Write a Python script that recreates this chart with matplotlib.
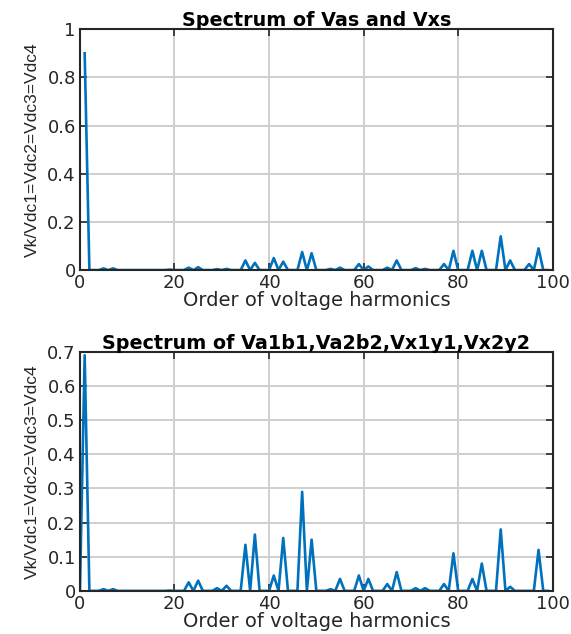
import numpy as np
import matplotlib
matplotlib.use("Agg")
import matplotlib.pyplot as plt

# odd harmonic amplitudes (normalised)
harm_top = [1, 5, 7, 19, 23, 25, 29, 31, 35, 37, 41, 43, 47, 49, 53, 55, 59, 61,
            65, 67, 71, 73, 77, 79, 83, 85, 89, 91, 95, 97]
amp_top = [0.90, 0.007, 0.007, 0.002, 0.010, 0.012, 0.004, 0.005, 0.040, 0.030,
           0.050, 0.035, 0.075, 0.070, 0.005, 0.010, 0.025, 0.015, 0.010, 0.040,
           0.008, 0.005, 0.025, 0.080, 0.080, 0.080, 0.140, 0.040, 0.025, 0.090]

harm_bot = [1, 5, 7, 19, 23, 25, 29, 31, 35, 37, 41, 43, 47, 49, 53, 55, 59, 61,
            65, 67, 71, 73, 77, 79, 83, 85, 89, 91, 97]
amp_bot = [0.69, 0.005, 0.005, 0.001, 0.025, 0.030, 0.008, 0.015, 0.135, 0.165,
           0.045, 0.155, 0.290, 0.150, 0.005, 0.035, 0.045, 0.035, 0.020, 0.055,
           0.008, 0.008, 0.020, 0.110, 0.035, 0.080, 0.180, 0.012, 0.120]

titles = ["Spectrum of Vas and Vxs", "Spectrum of Va1b1,Va2b2,Vx1y1,Vx2y2"]
ylabel = "Vk/Vdc1=Vdc2=Vdc3=Vdc4"
xlabel = "Order of voltage harmonics"


def spectrum(orders, amps, k_start):
    k = np.arange(k_start, 100)
    v = np.zeros(len(k))
    for o, a in zip(orders, amps):
        v[k == o] = a
    return k, v


fig = plt.figure(figsize=(5.71, 6.34), dpi=100)
ax1 = fig.add_axes([0.140, 0.574, 0.828, 0.380])
ax2 = fig.add_axes([0.140, 0.068, 0.828, 0.377])

setups = [
    (ax1, harm_top, amp_top, 1, 1.0, np.arange(0, 1.01, 0.2), ["0", "0.2", "0.4", "0.6", "0.8", "1"]),
    (ax2, harm_bot, amp_bot, 0, 0.7, np.arange(0, 0.71, 0.1), ["0", "0.1", "0.2", "0.3", "0.4", "0.5", "0.6", "0.7"]),
]

for (ax, orders, amps, k0, ymax, yt, ytl), title in zip(setups, titles):
    k, v = spectrum(orders, amps, k0)
    ax.plot(k, v, color="#0072BD", lw=1.9)
    ax.set_xlim(0, 100)
    ax.set_ylim(0, ymax)
    ax.set_xticks(np.arange(0, 101, 20))
    ax.set_yticks(yt)
    ax.set_yticklabels(ytl)
    ax.grid(True, color="#cfcfcf", lw=1.4)
    ax.set_axisbelow(True)
    for s in ax.spines.values():
        s.set_linewidth(1.5)
        s.set_color("#262626")
    ax.tick_params(direction="in", length=5, width=1.2, top=True, right=True,
                   labelsize=13, colors="#262626", pad=3)
    for lab in ax.get_xticklabels() + ax.get_yticklabels():
        lab.set_family("DejaVu Sans")
    ax.set_title(title, fontsize=13.8, fontweight="bold", family="DejaVu Sans", pad=2)
    ax.set_xlabel(xlabel, fontsize=14, family="DejaVu Sans", color="#262626", labelpad=-1)
    ax.set_ylabel(ylabel, fontsize=12.5, family="Liberation Sans", color="#262626", labelpad=5)

fig.savefig("out.png", dpi=100)
